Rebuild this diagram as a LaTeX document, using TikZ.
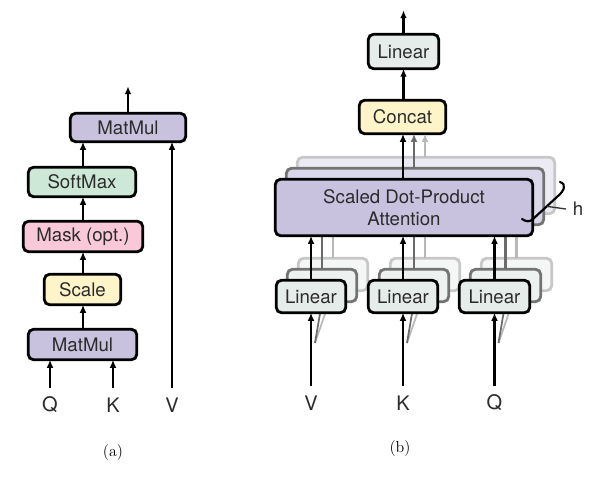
\documentclass[tikz,border=0pt]{standalone}
\usepackage{fontspec}
\setsansfont{TeX Gyre Heros}
\usetikzlibrary{arrows.meta}
\definecolor{cpurple}{HTML}{C8C2DE}
\definecolor{cgreen}{HTML}{CDE8D6}
\definecolor{cpink}{HTML}{F9C9DA}
\definecolor{cyellow}{HTML}{FDF5C9}
\definecolor{clin}{HTML}{E6ECEA}
\definecolor{txtgray}{HTML}{2B2B2B}
\tikzset{
 box/.style={draw=black, line width=2.1pt, rounded corners=4pt, inner sep=0pt, outer sep=0pt,
   font=\sffamily\fontsize{14}{16}\selectfont, text=txtgray, align=center},
 arr/.style={line width=1.6pt, -{Latex[length=6pt,width=5pt]}},
 lbl/.style={font=\sffamily\fontsize{15}{18}\selectfont, text=txtgray, inner sep=0pt},
 captxt/.style={font=\fontsize{12}{14}\selectfont, inner sep=0pt},
}
\newcommand\bx[7]{\node[box,#7,minimum width={((#4)-(#2)-2.5)*0.75pt},minimum height={((#5)-(#3)-2.5)*0.75pt}] (#1) at ({((#2)+(#4))/2},{((#3)+(#5))/2}) {#6};}
\begin{document}
\begin{tikzpicture}[x=0.75pt,y=-0.75pt]
\path[use as bounding box] (0,0) rectangle (600,478);
% ---------------- (a)
\bx{mmtop}{69}{112}{187}{143}{MatMul}{fill=cpurple}
\bx{soft}{27}{166}{137}{198}{SoftMax}{fill=cgreen}
\bx{mask}{22}{220}{144}{253}{Mask (opt.)}{fill=cpink}
\bx{scale}{43}{273}{122}{306}{Scale}{fill=cyellow}
\bx{mmbot}{27}{328}{138}{361}{MatMul}{fill=cpurple}
\node[lbl] (qa) at (50,405) {Q};
\node[lbl] (ka) at (113,405) {K};
\node[lbl] (va) at (172,405) {V};
\draw[arr] (qa) ++(0,-17) -- (qa |- mmbot.south);
\draw[arr] (ka) ++(0,-17) -- (ka |- mmbot.south);
\draw[arr] (va) ++(0,-17) -- (va |- mmtop.south);
\draw[arr] (mmbot.north -| 83,0) -- (scale.south -| 83,0);
\draw[arr] (scale.north -| 83,0) -- (mask.south -| 83,0);
\draw[arr] (mask.north -| 83,0) -- (soft.south -| 83,0);
\draw[arr] (soft.north -| 83,0) -- (mmtop.south -| 83,0);
\draw[arr] (mmtop.north) -- ++(0,-27);
\node[captxt] (capa) at (113,453) {(a)};
% ---------------- (b)
\bx{lintop}{367}{33}{440}{70}{Linear}{fill=clin}
\bx{concat}{358}{99}{447}{135}{Concat}{fill=cyellow}
\draw[arr] (concat.north -| lintop) -- (lintop.south);
\draw[arr] (lintop.north) -- ++(0,-24);
\node[lbl] (vb) at (311,403) {V};
\node[lbl] (kb) at (403,403) {K};
\node[lbl] (qb) at (494.5,403) {Q};
\foreach \k/\dcol/\pf/\lf/\acol in {2/black!22/cpurple!35!white/clin!40!white/black!28,
                                   1/black!55/cpurple!65!white/clin!70!white/black!58,
                                   0/black/cpurple/clin/black}{
  \pgfmathsetmacro\o{11*\k}
  \bx{sdpa\k}{274+\o}{178-\o}{534+\o}{237-\o}{\ifnum\k=0 Scaled Dot-Product\\Attention\fi}{fill=\pf,draw=\dcol}
  \draw[arr,draw=\acol,fill=\acol] (sdpa\k.north -| 403+\o,0) -- (concat.south -| 403+\o,0);
  \bx{lv\k}{275+\o}{279-\o}{347+\o}{314-\o}{\ifnum\k=0 Linear\fi}{fill=\lf,draw=\dcol}
  \bx{lk\k}{367+\o}{279-\o}{439+\o}{314-\o}{\ifnum\k=0 Linear\fi}{fill=\lf,draw=\dcol}
  \bx{lq\k}{458+\o}{279-\o}{531+\o}{314-\o}{\ifnum\k=0 Linear\fi}{fill=\lf,draw=\dcol}
  \foreach \n/\l in {lv/vb,lk/kb,lq/qb}{
    \draw[arr,draw=\acol,fill=\acol] (\n\k.north) -- (\n\k.north |- sdpa\k.south);
    \ifnum\k=0
      \draw[arr] (\l) ++(0,-17) -- (\n\k.south);
    \else
      \draw[arr,draw=\acol,fill=\acol,line width=1.3pt] (\l) ++(4,-60) -- (\n\k.south);
    \fi
  }
}
% h brace
\draw[line width=1.6pt, line cap=round] (560,182) .. controls (567,184) and (564,191) .. (558,196)
  -- coordinate[pos=0.45] (bh) (533,219) .. controls (530,222) and (526,222) .. (522,219);
\node[lbl, font=\sffamily\fontsize{14}{16}\selectfont] (hl) at (578,209) {h};
\draw[line width=1pt, draw=black!80] (bh) -- (hl.west -| 566,0);
\node[captxt] (capb) at (400,449) {(b)};
\end{tikzpicture}
\end{document}
